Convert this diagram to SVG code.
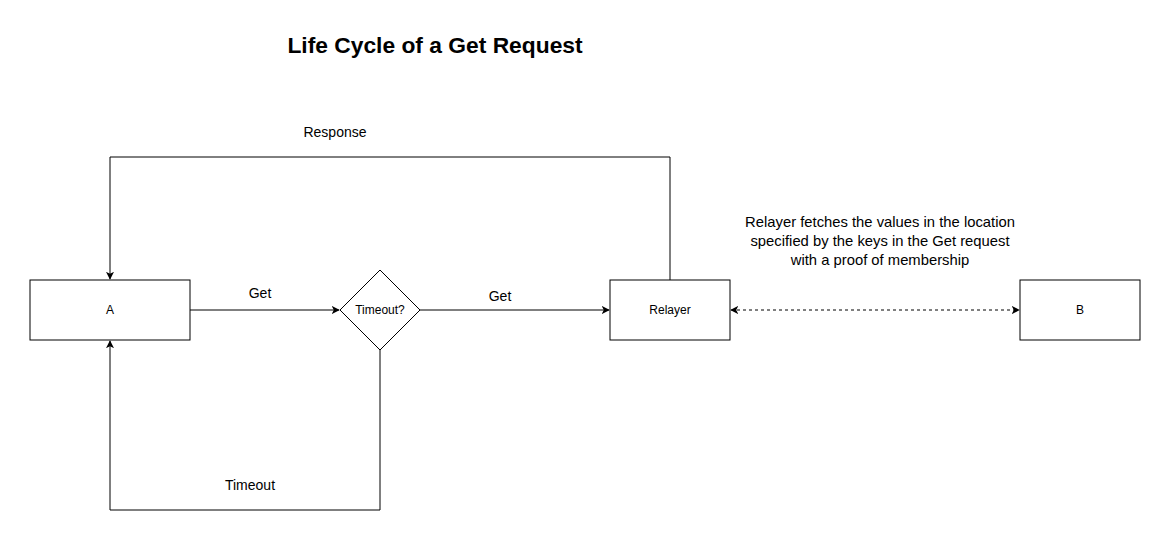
<svg xmlns="http://www.w3.org/2000/svg" width="1171" height="549" viewBox="0 0 1171 549">
<style>
.n{fill:#fff;stroke:#000;stroke-width:1}
.e{fill:none;stroke:#000;stroke-width:1}
.t{font-family:"Liberation Sans",Arial,sans-serif;fill:#000}
.s{font-size:12px}
.l{font-size:14px}
.m{font-size:14.8px}
</style>
<defs>
<marker id="ar" viewBox="0 0 10 10" refX="9" refY="5" markerWidth="8" markerHeight="8" markerUnits="userSpaceOnUse" orient="auto-start-reverse">
<path d="M0,0 L10,5 L0,10 L2.5,5 Z" fill="#000"/>
</marker>
</defs>
<rect width="1171" height="549" fill="#fff"/>
<text class="t" x="435" y="53" text-anchor="middle" font-size="22.8" font-weight="bold">Life Cycle of a Get Request</text>
<g id="connectors">
<path class="e" d="M190,310 H339" marker-end="url(#ar)"/>
<path class="e" d="M420,310 H609" marker-end="url(#ar)"/>
<path class="e" d="M670,280 V157 H110 V279" marker-end="url(#ar)"/>
<path class="e" d="M380,350 V510 H110 V341" marker-end="url(#ar)"/>
<path class="e" d="M731,310 H1019" stroke-dasharray="3,3" marker-start="url(#ar)" marker-end="url(#ar)"/>
<text class="t l" x="335" y="137" text-anchor="middle">Response</text>
<text class="t l" x="260" y="298" text-anchor="middle">Get</text>
<text class="t l" x="500" y="301" text-anchor="middle">Get</text>
<text class="t l" x="250" y="490" text-anchor="middle">Timeout</text>
<text class="t m" x="880" y="227" text-anchor="middle">Relayer fetches the values in the location</text>
<text class="t m" x="880" y="246" text-anchor="middle">specified by the keys in the Get request</text>
<text class="t m" x="880" y="265" text-anchor="middle">with a proof of membership</text>
</g>
<g id="A">
<rect class="n" x="30" y="280" width="160" height="60"/>
<text class="t s" x="110" y="314" text-anchor="middle">A</text>
</g>
<g id="timeout">
<path class="n" d="M380,270 L420,310 L380,350 L340,310 Z"/>
<text class="t s" x="380" y="314" text-anchor="middle">Timeout?</text>
</g>
<g id="relayer">
<rect class="n" x="610" y="280" width="120" height="60"/>
<text class="t s" x="670" y="314" text-anchor="middle">Relayer</text>
</g>
<g id="B">
<rect class="n" x="1020" y="280" width="120" height="60"/>
<text class="t s" x="1080" y="314" text-anchor="middle">B</text>
</g>
</svg>
